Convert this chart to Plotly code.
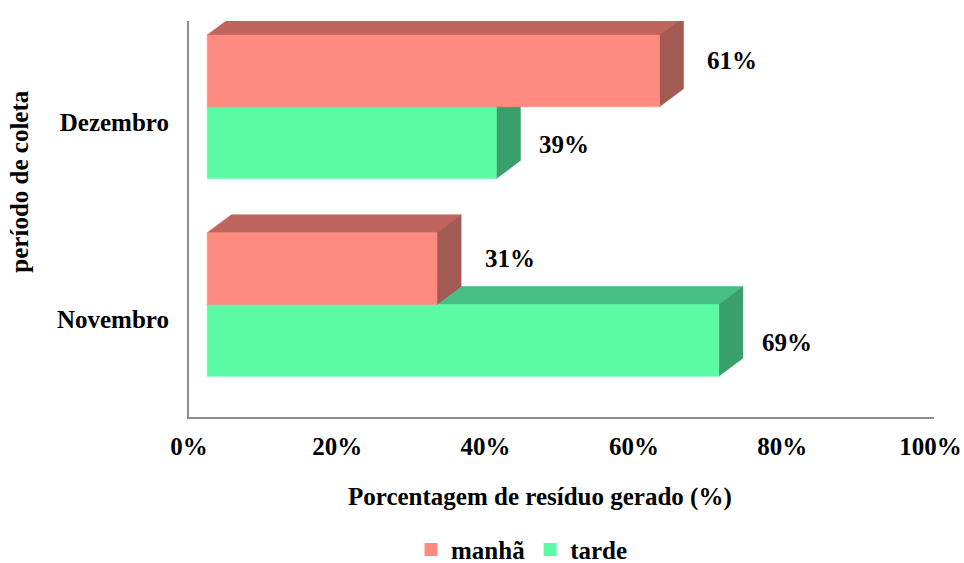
import plotly.graph_objects as go

# data
categories = ["Novembro", "Dezembro"]
manha = [31, 61]
tarde = [69, 39]
x_ticks = [0, 20, 40, 60, 80, 100]

COLORS = {
    "manhã": {"front": "#FF8A7F", "top": "#C0655D", "side": "#A35A52"},
    "tarde": {"front": "#5BFBA5", "top": "#47BF84", "side": "#3AA06B"},
}
FONT = dict(family="Liberation Serif", size=25, color="black", weight="bold")

# 3D look: front faces are shifted from the back wall, depth drawn as offsets
BASE = 2.45      # front face shift in % units
DX = 3.25        # depth in % units
DY = 0.091       # depth in category units
BAR_W = 0.363    # thickness of each bar in category units
LABEL_DROP = 0.077

fig = go.Figure()


def add_box(y0, y1, length, cols):
    x0, x1 = BASE, BASE + length
    top = dict(x=[x0, x0 + DX, x1 + DX, x1, x0], y=[y1, y1 + DY, y1 + DY, y1, y1])
    side = dict(x=[x1, x1, x1 + DX, x1 + DX, x1], y=[y0, y1, y1 + DY, y0 + DY, y0])
    front = dict(x=[x0, x0, x1, x1, x0], y=[y0, y1, y1, y0, y0])
    for face, key in ((top, "top"), (side, "side"), (front, "front")):
        fig.add_trace(go.Scatter(
            x=face["x"], y=face["y"], mode="lines", fill="toself",
            fillcolor=cols[key], line=dict(width=0.5, color=cols[key]),
            hoverinfo="skip", showlegend=False,
        ))


for i, cat in enumerate(categories):
    # tarde sits below, manhã on top; draw lower one first
    add_box(i - BAR_W, i, tarde[i], COLORS["tarde"])
    add_box(i, i + BAR_W, manha[i], COLORS["manhã"])
    fig.add_annotation(x=BASE + tarde[i], y=i - BAR_W / 2, text=f"{tarde[i]}%",
                       showarrow=False, xanchor="left", xshift=41, yshift=-2, font=FONT)
    fig.add_annotation(x=BASE + manha[i], y=i + BAR_W / 2, text=f"{manha[i]}%",
                       showarrow=False, xanchor="left", xshift=46, yshift=10, font=FONT)

# legend entries
for name in ("manhã", "tarde"):
    fig.add_trace(go.Scatter(
        x=[None], y=[None], mode="markers", name=name,
        marker=dict(symbol="square", size=13, color=COLORS[name]["front"]),
    ))

fig.add_annotation(text="Porcentagem de resíduo gerado (%)", xref="paper", yref="paper",
                   x=0.4707, y=-0.2008, showarrow=False, yanchor="middle", font=FONT)
fig.add_annotation(text="período de coleta", xref="paper", yref="paper",
                   x=-0.228, y=0.5947, showarrow=False, textangle=-90,
                   xanchor="center", yanchor="middle", font=FONT)

fig.update_layout(
    width=964, height=563,
    margin=dict(l=189, r=30, t=21, b=146, autoexpand=False),
    plot_bgcolor="white", paper_bgcolor="white",
    font=FONT,
    showlegend=True,
    legend=dict(orientation="h", x=0.447, xanchor="center", y=-0.335, yanchor="middle",
                font=FONT, itemwidth=30),
)
fig.update_xaxes(
    range=[0, 100.47], tickvals=x_ticks, ticktext=[f"{t}%" for t in x_ticks],
    showgrid=False, zeroline=False, showline=True, linecolor="#8C8C8C", linewidth=2,
    ticks="", ticklabelstandoff=6, tickfont=FONT, automargin=False,
)
fig.update_yaxes(
    range=[-0.569, 1.434], tickvals=[i - LABEL_DROP for i in range(len(categories))],
    ticktext=categories, showgrid=False, zeroline=False, showline=True,
    linecolor="#8C8C8C", linewidth=2, ticks="", ticklabelstandoff=13, tickfont=FONT,
    automargin=False,
)

fig.write_html("out.html", config={"displayModeBar": False},
               post_script="document.body.style.margin='0';")
